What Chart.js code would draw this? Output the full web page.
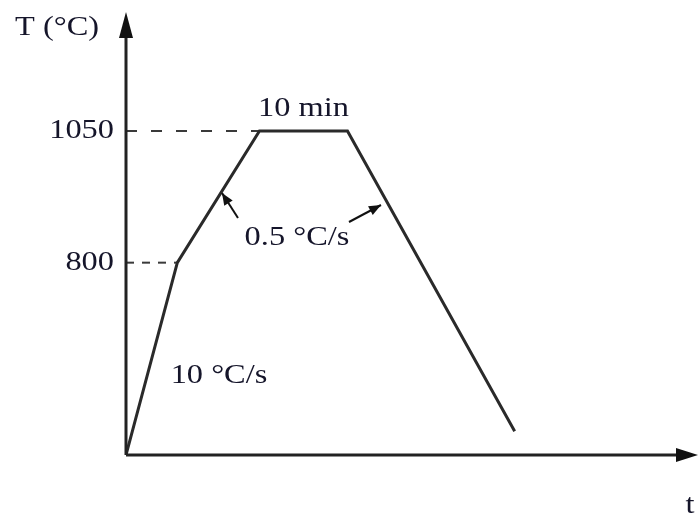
<!DOCTYPE html>
<html>
<head>
<meta charset="utf-8">
<script src="https://cdn.jsdelivr.net/npm/chart.js@4.4.1/dist/chart.umd.min.js"></script>
<style>
    body { margin: 0; background: #fff; }
    #wrap { width: 700px; height: 523px; }
</style>
</head>
<body>
<div id="wrap"><canvas id="cycle"></canvas></div>
<script>
// heat treatment cycle: time (s) vs temperature (°C)
const times = [0, 350, 910, 1510, 2650];
const temps = [435, 800, 1050, 1050, 480];
const tempTicks = [800, 1050];
const holdLabel = '10 min';
const heatRate = '10 °C/s';
const slowRate = '0.5 °C/s';

const INK = '#15152a';
const SERIF = '"Liberation Serif", "Times New Roman", serif';

function stretchText(ctx, txt, x, y, size, align) {
    ctx.save();
    ctx.font = size + 'px ' + SERIF;
    ctx.fillStyle = INK;
    ctx.textBaseline = 'middle';
    const w = ctx.measureText(txt).width * 1.2;
    let left = x;
    if (align === 'center') left = x - w / 2;
    if (align === 'right') left = x - w;
    ctx.translate(left, y);
    ctx.scale(1.2, 1);
    ctx.textAlign = 'left';
    ctx.fillText(txt, 0, 0);
    ctx.restore();
}

function arrowHead(ctx, x1, y1, x2, y2, len, half) {
    const a = Math.atan2(y2 - y1, x2 - x1);
    ctx.beginPath();
    ctx.moveTo(x2, y2);
    ctx.lineTo(x2 - len * Math.cos(a) + half * Math.sin(a), y2 - len * Math.sin(a) - half * Math.cos(a));
    ctx.lineTo(x2 - len * Math.cos(a) - half * Math.sin(a), y2 - len * Math.sin(a) + half * Math.cos(a));
    ctx.closePath();
    ctx.fill();
}

function pointer(ctx, x1, y1, x2, y2) {
    ctx.save();
    ctx.strokeStyle = '#111';
    ctx.fillStyle = '#111';
    ctx.lineWidth = 2;
    ctx.beginPath();
    ctx.moveTo(x1, y1);
    ctx.lineTo(x2, y2);
    ctx.stroke();
    arrowHead(ctx, x1, y1, x2, y2, 12, 5);
    ctx.restore();
}

// axes with arrow heads, tick labels and the notes on the curve
const decor = {
    id: 'decor',
    afterDraw(chart) {
        const ctx = chart.ctx;
        const a = chart.chartArea;
        const xs = chart.scales.x, ys = chart.scales.y;

        ctx.save();
        ctx.strokeStyle = '#222';
        ctx.fillStyle = '#111';
        ctx.lineWidth = 3;
        ctx.beginPath();
        ctx.moveTo(a.left, a.bottom);
        ctx.lineTo(a.left, a.top + 20);
        ctx.moveTo(a.left, a.bottom);
        ctx.lineTo(a.right - 18, a.bottom);
        ctx.stroke();
        arrowHead(ctx, a.left, a.bottom, a.left, a.top - 3, 26, 7);
        arrowHead(ctx, a.left, a.bottom, a.right, a.bottom, 22, 7);
        ctx.restore();

        ys.ticks.forEach(t => {
            stretchText(ctx, String(t.value), a.left - 12, ys.getPixelForValue(t.value), 27, 'right');
        });

        stretchText(ctx, 'T (°C)', 15, 28, 27, 'left');
        stretchText(ctx, 't', 690, 506, 27, 'center');

        const midHold = (xs.getPixelForValue(times[2]) + xs.getPixelForValue(times[3])) / 2;
        stretchText(ctx, holdLabel, midHold, ys.getPixelForValue(temps[2]) - 22, 27, 'center');
        stretchText(ctx, slowRate, 297, 238, 27, 'center');
        stretchText(ctx, heatRate, 219, 376, 27, 'center');

        pointer(ctx, 238, 218, 222, 193);
        pointer(ctx, 349, 222, 381, 205);
    }
};

new Chart(document.getElementById('cycle'), {
    type: 'line',
    data: {
        datasets: [
            {
                data: times.map((t, i) => ({ x: t, y: temps[i] })),
                borderColor: '#2a2a2a',
                borderWidth: 3,
                pointRadius: 0,
                tension: 0
            },
            {
                data: [{ x: 0, y: temps[2] }, { x: times[2], y: temps[2] }],
                borderColor: '#3a3a3a',
                borderWidth: 2,
                borderDash: [11, 14],
                pointRadius: 0
            },
            {
                data: [{ x: 0, y: temps[1] }, { x: times[1], y: temps[1] }],
                borderColor: '#3a3a3a',
                borderWidth: 2,
                borderDash: [8, 8],
                pointRadius: 0
            }
        ]
    },
    options: {
        responsive: true,
        maintainAspectRatio: false,
        animation: false,
        layout: { padding: { top: 15, right: 2, left: 0, bottom: 0 } },
        plugins: { legend: { display: false }, tooltip: { enabled: false } },
        scales: {
            x: {
                type: 'linear',
                min: 0,
                max: 3900,
                grid: { display: false },
                border: { display: false },
                ticks: { display: false },
                afterFit(scale) { scale.height = 68; }
            },
            y: {
                type: 'linear',
                min: 435,
                max: 1270,
                grid: { display: false },
                border: { display: false },
                ticks: { display: false },
                afterBuildTicks(scale) {
                    scale.ticks = tempTicks.map(v => ({ value: v }));
                },
                afterFit(scale) { scale.width = 126; }
            }
        }
    },
    plugins: [decor]
});
</script>
</body>
</html>
